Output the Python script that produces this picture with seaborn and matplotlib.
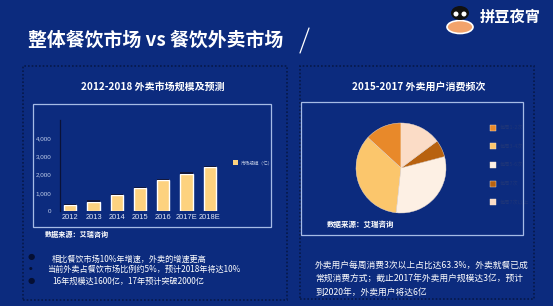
import matplotlib
matplotlib.use("Agg")
import matplotlib.pyplot as plt
import seaborn as sns
import pandas as pd
from matplotlib.patches import Rectangle, Ellipse, Patch
from matplotlib.lines import Line2D

# ---------------- data ----------------
years = ["2012", "2013", "2014", "2015", "2016", "2017E", "2018E"]
market_size = [310, 510, 855, 1255, 1690, 2055, 2415]
bar_legend = "市场规模（亿）"
y_ticks = [0, 1000, 2000, 3000, 4000]

freq_labels = ["每周1-2次", "每周3-4次", "每周5-6次", "每周7次", "每周7次以上"]
freq_share = [13.2, 35.1, 30.8, 6.1, 14.8]

title = "整体餐饮市场 vs 餐饮外卖市场"
bar_title = "2012-2018 外卖市场规模及预测"
pie_title = "2015-2017 外卖用户消费频次"
source = "数据来源：艾瑞咨询"
logo_text = "拼豆夜宵"
left_notes = ["相比餐饮市场10%年增速，外卖的增速更高",
              "当前外卖占餐饮市场比例约5%，预计2018年将达10%",
              "16年规模达1600亿，17年预计突破2000亿"]
right_notes = ["外卖用户每周消费3次以上占比达63.3%，外卖就餐已成",
               "常规消费方式；截止2017年外卖用户规模达3亿，预计",
               "到2020年，外卖用户将达6亿"]

# ---------------- style ----------------
BG = "#0c2b7e"
BAR = "#fdd27f"
PIE_COLORS = ["#e8892a", "#fbc66c", "#fdf0e4", "#b8620f", "#fbdcc6"]
BOX = "#a6bbe6"
DOT = "#06184a"

sns.set_theme(style="white")
plt.rcParams["font.family"] = ["Noto Sans CJK SC", "DejaVu Sans"]

W, H = 553, 306
fig = plt.figure(figsize=(W / 100, H / 100), dpi=100)
fig.patch.set_facecolor(BG)


def fx(x):
    return x / W


def fy(y):
    return 1 - y / H


def frect(x0, y0, x1, y1, **kw):
    r = Rectangle((fx(x0), fy(y1)), fx(x1) - fx(x0), fy(y0) - fy(y1),
                  transform=fig.transFigure, fill=False, **kw)
    fig.add_artist(r)


# panels (dotted) and boxes (solid)
frect(23, 66, 287, 300, edgecolor=DOT, linestyle=(0, (1, 1.2)), linewidth=1.2)
frect(300, 66, 534, 299, edgecolor=DOT, linestyle=(0, (1, 1.2)), linewidth=1.2)
frect(33, 104, 271, 227, edgecolor=BOX, linewidth=0.9)
frect(301, 102, 523, 235, edgecolor=BOX, linewidth=0.9)

# header
fig.text(fx(28), fy(40), title, color="white", fontsize=13.6, fontweight="bold",
         va="center", ha="left")
fig.add_artist(Line2D([fx(309), fx(300)], [fy(28), fy(53)], color="white",
                      linewidth=0.9, transform=fig.transFigure))
fig.text(fx(480), fy(17), logo_text, color="white", fontsize=11, fontweight="bold",
         fontstyle="italic", va="center", ha="left")
# simple logo icon
fig.add_artist(Ellipse((fx(460), fy(27)), fx(26), 13 / H, transform=fig.transFigure,
                       facecolor="#f2a36b", edgecolor="white", linewidth=1.2))
fig.add_artist(Ellipse((fx(460), fy(13)), fx(18), 14 / H, transform=fig.transFigure,
                       facecolor="#111111", edgecolor="none"))
fig.add_artist(Ellipse((fx(456), fy(14)), fx(5), 5 / H, transform=fig.transFigure,
                       facecolor="white", edgecolor="none"))
fig.add_artist(Ellipse((fx(464), fy(14)), fx(5), 5 / H, transform=fig.transFigure,
                       facecolor="white", edgecolor="none"))

# panel titles
fig.text(fx(153), fy(87), bar_title, color="white", fontsize=7.2, fontweight="bold",
         ha="center", va="center")
fig.text(fx(419), fy(87), pie_title, color="white", fontsize=7.2, fontweight="bold",
         ha="center", va="center")

# ---------------- bar chart ----------------
ax = fig.add_axes([fx(60), fy(211), fx(220) - fx(60), (211 - 120) / H])
ax.set_facecolor("none")
df = pd.DataFrame({"year": years, "size": market_size})
sns.barplot(data=df, x="year", y="size", color=BAR, saturation=1, width=0.52, ax=ax)
ax.bar(range(len(years)), [70] * len(years), bottom=market_size, width=0.52,
       color="#15183a", linewidth=0)
ax.set_xlim(-0.44, 6.44)
ax.set_ylim(0, 5000)
ax.set_yticks(y_ticks)
ax.set_yticklabels([f"{v:,}" for v in y_ticks], color="#c3d0ec", fontsize=4.5,
                   family=["Liberation Sans", "DejaVu Sans"])
ax.set_xticks(range(len(years)))
ax.set_xticklabels(years, color="#e3e9f7", fontsize=5.4,
                   family=["Liberation Sans", "DejaVu Sans"])
ax.tick_params(axis="both", length=0, pad=2)
ax.tick_params(axis="y", pad=6)
ax.set_xlabel("")
ax.set_ylabel("")
for s in ["top", "right", "bottom"]:
    ax.spines[s].set_visible(False)
ax.spines["left"].set_color("#0a1238")
ax.spines["left"].set_linewidth(0.9)
ax.legend(handles=[Patch(facecolor=BAR, edgecolor="none", label=bar_legend)],
          loc="center left", bbox_to_anchor=(fx(229), fy(163)),
          bbox_transform=fig.transFigure, frameon=False, fontsize=3.3,
          handlelength=1.1, handleheight=1.3, handletextpad=0.6, labelcolor="#b9c4de")

fig.text(fx(45), fy(234), source, color="white", fontsize=5.1, fontweight="bold",
         fontstyle="italic", ha="left", va="center")

# ---------------- pie chart ----------------
axp = fig.add_axes([fx(356), fy(213), 90 / W, 90 / H])
wedges, _ = axp.pie(freq_share, colors=PIE_COLORS, startangle=90, counterclock=True,
                    wedgeprops=dict(linewidth=0.3, edgecolor="#f4e2cf"))
axp.set_xlim(-1, 1)
axp.set_ylim(-1, 1)
axp.set_aspect("equal")
axp.legend(wedges, freq_labels, loc="center left", bbox_to_anchor=(fx(485), fy(165)),
           bbox_transform=fig.transFigure, frameon=False, fontsize=3.8,
           labelspacing=2.45, handlelength=1.2, handleheight=1.3, handletextpad=0.7,
           labelcolor="#1e3578")

fig.text(fx(327), fy(224), source, color="white", fontsize=5.4, fontweight="bold",
         fontstyle="italic", ha="left", va="center")

# ---------------- notes ----------------
note_y = [259, 269, 281]
note_x = [52, 47, 52]
for txt, x, y in zip(left_notes, note_x, note_y):
    fig.text(fx(x), fy(y), txt, color="white", fontsize=5.9, ha="left", va="center")
for y, s in zip([257, 269, 280], [6, 3, 6]):
    fig.text(fx(31), fy(y), "●", color="#050f33", fontsize=s, ha="center", va="center",
             family=["DejaVu Sans"])

for txt, y in zip(right_notes, [265, 279, 292]):
    fig.text(fx(315), fy(y), txt, color="white", fontsize=6.3, fontweight="medium",
             ha="left", va="center")

fig.savefig("out.png", dpi=100, facecolor=BG)
